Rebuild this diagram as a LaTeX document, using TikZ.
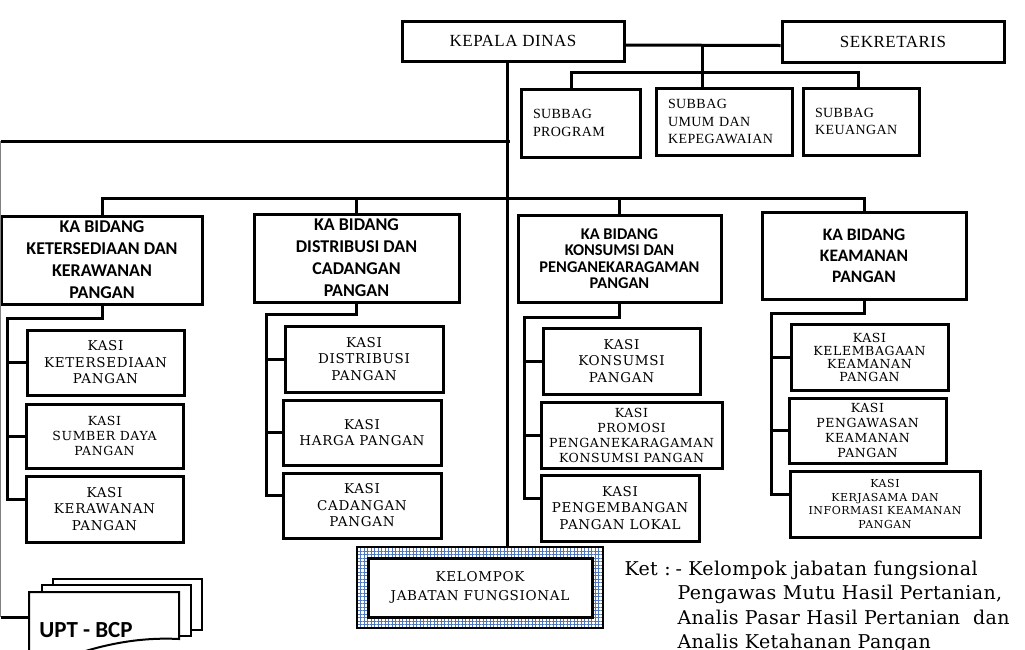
\documentclass[tikz,border=0pt]{standalone}
\usepackage{fontspec}
\setmainfont{DejaVu Serif}
\newfontfamily\bookFont[LetterSpace=5]{DejaVu Serif}
\newfontfamily\ketFont[LetterSpace=2]{DejaVu Serif}
\newfontfamily\timesFont[LetterSpace=3]{Liberation Serif}
\newfontfamily\calibriFont{Carlito}
\usetikzlibrary{patterns.meta}
\definecolor{gridBlue}{RGB}{80,120,190}

\begin{document}
\begin{tikzpicture}[x=1pt, y=-1pt, line width=3pt,
    box/.style={draw, fill=white, inner sep=2pt, align=center},
    headBox/.style={box, font=\timesFont\fontsize{17}{20}\selectfont},
    subBox/.style={box, align=left, inner xsep=12pt, font=\timesFont\fontsize{14}{17.5}\selectfont},
    bidBox/.style={box, font=\calibriFont\bfseries\fontsize{18}{22}\selectfont},
    kasiBox/.style={box, font=\bookFont\fontsize{13.5}{16.5}\selectfont},
    docLine/.style={line width=2pt, fill=white}]
  \useasboundingbox (0,0) rectangle (1025,649);
  \clip (0,0) rectangle (1025,649);

  % top: kepala dinas, sekretaris and the subbag boxes
  \node[headBox, minimum width=222pt, minimum height=40pt] (kepala) at (513,41) {KEPALA DINAS};
  \node[headBox, minimum width=222pt, minimum height=41pt] (sekre) at (893,41.5) {SEKRETARIS};
  \node[subBox, text width=95pt, minimum height=68pt] (subprog) at (580.5,123) {SUBBAG\\PROGRAM};
  \node[subBox, text width=112pt, minimum height=67pt] (subumum) at (724,121.5) {SUBBAG\\UMUM DAN\\KEPEGAWAIAN};
  \node[subBox, text width=92pt, minimum height=67pt] (subkeu) at (861,121.5) {SUBBAG\\KEUANGAN};

  \draw ([yshift=-4pt]kepala.east) -- ([yshift=-4pt]sekre.west);
  \coordinate (sekJoin) at (702,45);
  \coordinate (subBus) at (702,72);
  \coordinate (progDrop) at (571,72);
  \coordinate (keuDrop) at (858,72);
  \draw (sekJoin) -- (subBus) -- (subBus |- subumum.north);
  \draw (progDrop |- subprog.north) -- (progDrop) -- (keuDrop) -- (keuDrop |- subkeu.north);

  % the four bidang
  \node[bidBox, minimum width=201pt, minimum height=88pt] (ketBid) at (102,260) {KA BIDANG\\KETERSEDIAAN DAN\\KERAWANAN\\PANGAN};
  \node[bidBox, minimum width=205pt, minimum height=88pt] (distBid) at (356.5,258) {KA BIDANG\\DISTRIBUSI DAN\\CADANGAN\\PANGAN};
  \node[bidBox, font=\calibriFont\bfseries\fontsize{16.4}{16.5}\selectfont, minimum width=203pt, minimum height=87pt] (konsBid) at (619.5,258.5) {KA BIDANG\\KONSUMSI DAN\\PENGANEKARAGAMAN\\PANGAN};
  \node[bidBox, font=\calibriFont\bfseries\fontsize{17.5}{21}\selectfont, minimum width=204pt, minimum height=87pt] (keamBid) at (864,255.5) {KA BIDANG\\KEAMANAN\\PANGAN};

  % kasi under each bidang
  \node[kasiBox, minimum width=157pt, minimum height=65pt] (kasiA1) at (105.5,362.5) {KASI\\KETERSEDIAAN\\PANGAN};
  \node[kasiBox, font=\bookFont\fontsize{12.5}{15}\selectfont, minimum width=157pt, minimum height=64pt] (kasiA2) at (104.5,436) {KASI\\SUMBER DAYA\\PANGAN};
  \node[kasiBox, minimum width=157pt, minimum height=66pt] (kasiA3) at (104.5,509) {KASI\\KERAWANAN\\PANGAN};

  \node[kasiBox, minimum width=158pt, minimum height=66pt] (kasiB1) at (364,359) {KASI\\DISTRIBUSI\\PANGAN};
  \node[kasiBox, minimum width=158pt, minimum height=65pt] (kasiB2) at (362,432.5) {KASI\\HARGA PANGAN};
  \node[kasiBox, minimum width=158pt, minimum height=65pt] (kasiB3) at (362,505.5) {KASI\\CADANGAN\\PANGAN};

  \node[kasiBox, minimum width=157pt, minimum height=66pt] (kasiC1) at (621.5,361) {KASI\\KONSUMSI\\PANGAN};
  \node[kasiBox, font=\bookFont\fontsize{12.5}{15}\selectfont, minimum width=181pt, minimum height=66pt] (kasiC2) at (631.5,435) {KASI\\PROMOSI\\PENGANEKARAGAMAN\\KONSUMSI PANGAN};
  \node[kasiBox, minimum width=158pt, minimum height=66pt] (kasiC3) at (620,508) {KASI\\PENGEMBANGAN\\PANGAN LOKAL};

  \node[kasiBox, font=\bookFont\fontsize{12.5}{13}\selectfont, minimum width=157pt, minimum height=66pt] (kasiD1) at (869.5,357) {KASI\\KELEMBAGAAN\\KEAMANAN\\PANGAN};
  \node[kasiBox, font=\bookFont\fontsize{12.5}{15}\selectfont, minimum width=157pt, minimum height=65pt] (kasiD2) at (867.5,430.5) {KASI\\PENGAWASAN\\KEAMANAN\\PANGAN};
  \node[kasiBox, font=\bookFont\fontsize{11}{13.5}\selectfont, minimum width=190pt, minimum height=66pt] (kasiD3) at (885,504) {KASI\\KERJASAMA DAN\\INFORMASI KEAMANAN\\PANGAN};

  % kelompok jabatan fungsional (grid border)
  \node[draw, line width=2pt, minimum width=246pt, minimum height=81pt,
        preaction={fill=white},
        preaction={pattern={Lines[angle=90, distance=3.5pt, line width=0.7pt]}, pattern color=gridBlue},
        pattern={Lines[distance=3.5pt, line width=0.7pt]}, pattern color=gridBlue] (kelompok) at (480,587.5) {};
  \node[kasiBox, font=\bookFont\fontsize{13.5}{19}\selectfont, minimum width=224pt, minimum height=59pt] (kelInner) at (kelompok.center) {KELOMPOK\\JABATAN FUNGSIONAL};

  % spine and bidang bus
  \coordinate (spine) at (507,141);
  \coordinate (bidBus) at (507,198);
  \draw (spine |- kepala.south) -- (spine |- kelompok.north);
  \draw (ketBid.north) |- (bidBus) -| (keamBid.north);
  \draw (distBid.north) -- (distBid.north |- bidBus);
  \draw (konsBid.north) -- (konsBid.north |- bidBus);

  % rails to the kasi boxes, last tick sits 10pt above centre
  \coordinate (railA) at (7,318);
  \coordinate (railB) at (266,314);
  \coordinate (railC) at (524,317);
  \coordinate (railD) at (771,313);
  \draw (ketBid.south) |- (railA) |- ([yshift=10pt]kasiA3.west);
  \draw (distBid.south) |- (railB) |- ([yshift=10pt]kasiB3.west);
  \draw (konsBid.south) |- (railC) |- ([yshift=10pt]kasiC3.west);
  \draw (keamBid.south) |- (railD) |- ([yshift=10pt]kasiD3.west);
  \foreach \g in {A,B,C,D} {
    \draw (rail\g |- kasi\g1.west) -- (kasi\g1.west);
    \draw (rail\g |- kasi\g2.west) -- (kasi\g2.west);
  }

  % UPT stacked documents
  \draw[docLine] (53,579) rectangle (202,630);
  \draw[docLine] (42,585) rectangle (191,636);
  \draw[docLine] (29,662) -- (29,592) -- (179,592) -- (179,639)
    .. controls (140,637) and (105,644) .. (70,656) -- cycle;
  \node[font=\calibriFont\bfseries\fontsize{23}{26}\selectfont, inner sep=0pt] (upt) at (86,630) {UPT - BCP};
  \coordinate (uptDoc) at (29,617);

  % left line down to UPT
  \coordinate (leftEnd) at (0.5,141);
  \draw (leftEnd) -- ([xshift=3pt]spine);
  \draw[line width=1pt, gray] (leftEnd) -- (leftEnd |- uptDoc);
  \draw (leftEnd |- uptDoc) -- (uptDoc);

  % keterangan
  \node[anchor=base west, inner sep=0pt, font=\ketFont\fontsize{19}{24.5}\selectfont] (ket) at (623,575)
    {\begin{tabular}[t]{@{}l@{}l@{}}
      \makebox[51pt][l]{Ket :} & - Kelompok jabatan fungsional\\
      & \hspace*{2pt}Pengawas Mutu Hasil Pertanian,\\
      & \hspace*{2pt}Analis Pasar Hasil Pertanian\ \ dan\\
      & \hspace*{2pt}Analis Ketahanan Pangan
    \end{tabular}};
\end{tikzpicture}
\end{document}
